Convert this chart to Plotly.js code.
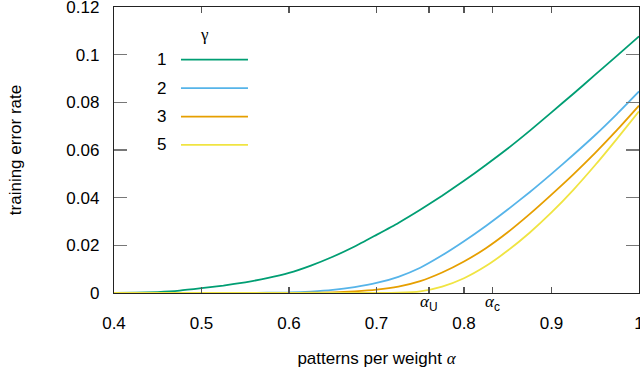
<!DOCTYPE html>
<html>
<head>
<meta charset="utf-8">
<script src="https://cdn.plot.ly/plotly-3.0.1.min.js"></script>
<style>html,body{margin:0;padding:0;background:#fff;}#chart{width:640px;height:374px;}</style>
</head>
<body>
<div id="chart"></div>
<script>
var alpha = [0.4,0.425,0.45,0.475,0.5,0.525,0.55,0.575,0.6,0.625,0.65,0.675,0.7,0.725,0.75,0.775,0.8,0.825,0.85,0.875,0.9,0.925,0.95,0.975,1.0];
var errG1 = [0,0.0001,0.0004,0.0010,0.0020,0.0031,0.0045,0.0062,0.0084,0.0115,0.0152,0.0195,0.0244,0.0294,0.0349,0.0408,0.0471,0.0537,0.0606,0.0680,0.0758,0.0836,0.0916,0.0996,0.1077];
var errG2 = [0,0,0,0,0,0,0,0.0001,0.0002,0.0006,0.0013,0.0025,0.0042,0.0068,0.0106,0.0158,0.0217,0.0281,0.0350,0.0423,0.0500,0.0580,0.0663,0.0752,0.0846];
var errG3 = [0,0,0,0,0,0,0,0,0,0.0001,0.0003,0.0007,0.0014,0.0027,0.0050,0.0086,0.0132,0.0188,0.0255,0.0331,0.0413,0.0498,0.0588,0.0684,0.0786];
var errG5 = [0,0,0,0,0,0,0,0,0,0,0,0,0,0.0001,0.0007,0.0027,0.0062,0.0113,0.0178,0.0253,0.0338,0.0433,0.0537,0.0648,0.0762];
var gammas = ['1','2','3','5'];
var colors = ['#009E73','#56B4E9','#E69F00','#F0E442'];
var xTickVals = [0.4,0.5,0.6,0.7,0.8,0.9,1.0];
var xTickText = ['0.4','0.5','0.6','0.7','0.8','0.9','1'];
var yTickVals = [0,0.02,0.04,0.06,0.08,0.1,0.12];
var yTickText = ['0','0.02','0.04','0.06','0.08','0.1','0.12'];
var alphaU = 0.760, alphaC = 0.833;

var series = [errG1, errG2, errG3, errG5];
var traces = series.map(function(s, i){
  return {x: alpha, y: s, type:'scatter', mode:'lines', name: gammas[i],
    line:{color: colors[i], width:1.8, shape:'spline', smoothing:0.5}, showlegend:false, hoverinfo:'skip'};
});

var font = {family:'Liberation Sans, Arial, sans-serif', size:17, color:'#000'};
var serif = "font-family:'Liberation Serif','DejaVu Serif',serif";

var annotations = [
  {x:0.173, y:0.905, xref:'paper', yref:'paper', xanchor:'center', yanchor:'middle', text:'<span style="'+serif+'">γ</span>', showarrow:false, font:{family:'Liberation Sans', size:17, color:'#000'}},
  {x:alphaU, y:-0.035, xref:'x', yref:'paper', xanchor:'center', yanchor:'middle', text:'<span style="'+serif+'"><i>α</i></span><sub>U</sub>', showarrow:false, font:{family:'Liberation Sans', size:17, color:'#000'}},
  {x:alphaC, y:-0.035, xref:'x', yref:'paper', xanchor:'center', yanchor:'middle', text:'<span style="'+serif+'"><i>α</i></span><sub>c</sub>', showarrow:false, font:{family:'Liberation Sans', size:17, color:'#000'}}
];
var shapes = [];
var rowY = [0.816, 0.716, 0.617, 0.518];
gammas.forEach(function(g, i){
  annotations.push({x:0.0914, y:rowY[i], xref:'paper', yref:'paper', xanchor:'center', yanchor:'middle', text:g, showarrow:false, font:font});
  shapes.push({type:'line', xref:'paper', yref:'paper', x0:0.1276, x1:0.2552, y0:rowY[i], y1:rowY[i], line:{color:colors[i], width:1.8}});
});

var layout = {
  width:640, height:374,
  margin:{l:114, r:1, t:7, b:81, pad:0},
  paper_bgcolor:'#fff', plot_bgcolor:'#fff',
  font: font,
  xaxis:{range:[0.4,1.0], tickmode:'array', tickvals:xTickVals.concat([alphaU, alphaC]), ticktext:xTickText.concat(['','']),
    ticks:'inside', ticklen:6, tickwidth:1.2, tickcolor:'#555', showline:true, linecolor:'#222', linewidth:1.2, mirror:'ticks',
    showgrid:false, zeroline:false, ticklabelstandoff:14, ticklabeloverflow:'allow', automargin:'bottom',
    title:{text:'patterns per weight <span style="'+serif+'"><i>α</i></span>', font:font, standoff:20}},
  yaxis:{range:[0,0.12], tickmode:'array', tickvals:yTickVals, ticktext:yTickText,
    ticks:'inside', ticklen:13, tickwidth:1.2, tickcolor:'#777', showline:true, linecolor:'#222', linewidth:1.2, mirror:'ticks',
    showgrid:false, zeroline:false, ticklabelstandoff:10, ticklabeloverflow:'allow', automargin:'left',
    title:{text:'training error rate', font:font, standoff:40}},
  annotations: annotations,
  shapes: shapes
};
Plotly.newPlot('chart', traces, layout, {staticPlot:true, displayModeBar:false});
</script>
</body>
</html>
